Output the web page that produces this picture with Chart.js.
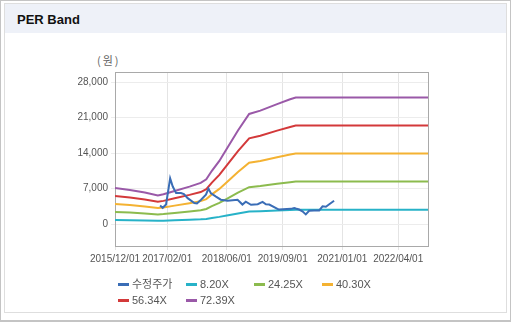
<!doctype html>
<html>
<head>
<meta charset="utf-8">
<title>PER Band</title>
<script src="https://cdn.jsdelivr.net/npm/chart.js@4/dist/chart.umd.min.js"></script>
<style>
body { margin: 0; background: #fff; }
#frame {
	position: relative; width: 509px; height: 319px;
	border: 1px solid #c4c4c4; border-bottom-width: 2px; overflow: hidden;
	font-family: "Liberation Sans", Arial, "Noto Sans CJK KR", sans-serif;
}
#panel {
	position: absolute; left: 3px; top: 2px; width: 501px; height: 308px;
	border: 1px solid #dedede;
}
#head {
	height: 29px; background: #eef1f8; color: #111;
	font-weight: bold; font-size: 13px; line-height: 31px; padding-left: 12px;
}
#unit {
	position: absolute; left: 96px; top: 51px; font-size: 11px; color: #666;
	letter-spacing: 2px; font-family: "Noto Sans CJK KR", sans-serif;
}
#canvas { position: absolute; left: 0; top: 0; }
#legend {
	position: absolute; left: 117px; top: 275px; width: 280px;
	display: flex; flex-wrap: wrap; font-size: 11px; color: #555;
}
#legend div { width: 68px; height: 16px; line-height: 16px; white-space: nowrap; }
#legend span.mk {
	display: inline-block; width: 11px; height: 3px; margin-right: 3px;
	vertical-align: middle; position: relative; top: -1px;
}
</style>
</head>
<body>
	<div id="frame">
		<div id="panel"><div id="head">PER Band</div></div>
		<div id="unit">(원)</div>
		<canvas id="canvas" width="511" height="322"></canvas>
		<div id="legend"></div>
	</div>
	<script>
		// months counted from 2015/12
		const xTickMonths = [0, 14, 30, 45, 61, 76];
		const xTickLabels = ['2015/12/01', '2017/02/01', '2018/06/01', '2019/09/01', '2021/01/01', '2022/04/01'];
		const yTicks = [0, 7000, 14000, 21000, 28000];

		const bandMonths = [0, 4, 8, 11.5, 13, 16, 20, 23, 24.5, 26, 28, 30, 33, 36, 39, 43.5, 47, 48.5, 84];
		const band820 = [804, 763, 705, 640, 664, 738, 836, 918, 1000, 1189, 1410, 1681, 2091, 2460, 2534, 2681, 2788, 2829, 2829];
		const band2425 = [2377, 2255, 2086, 1892, 1964, 2183, 2474, 2716, 2959, 3516, 4171, 4971, 6184, 7275, 7493, 7930, 8245, 8366, 8366];
		const band4030 = [3949, 3748, 3466, 3143, 3264, 3627, 4111, 4514, 4917, 5844, 6932, 8262, 10277, 12090, 12453, 13178, 13702, 13904, 13904];
		const band5634 = [5521, 5240, 4845, 4395, 4564, 5071, 5747, 6310, 6873, 8169, 9690, 11550, 14367, 16902, 17409, 18423, 19156, 19437, 19437];
		const band7239 = [7094, 6732, 6226, 5646, 5864, 6515, 7384, 8108, 8832, 10497, 12451, 14840, 18459, 21717, 22369, 23672, 24613, 24975, 24975];

		const priceMonths = [12.1, 12.8, 13.7, 14.8, 15.5, 16.4, 17.7, 18.5, 19.5, 21.3, 22.0, 23.1, 24.4, 25.1, 25.7, 27.1, 28.4, 30.2, 32.9, 34.2, 35.1, 36.5, 38.3, 39.6, 40.5, 41.4, 43.6, 44.0, 47.2, 48.1, 48.5, 49.4, 50.3, 51.2, 52.1, 53.4, 54.8, 55.7, 56.6, 57.5, 58.8];
		const priceValues = [3650, 3200, 3850, 9000, 7400, 6100, 6100, 5900, 5100, 4150, 4050, 4800, 5800, 7000, 6100, 5400, 4800, 4600, 4800, 3840, 4400, 3800, 3900, 4350, 3900, 3850, 3000, 2860, 2990, 3150, 3050, 2860, 2500, 1900, 2600, 2670, 2670, 3500, 3400, 3900, 4600];

		const seriesNames = ['수정주가', '8.20X', '24.25X', '40.30X', '56.34X', '72.39X'];
		const seriesColors = ['#3a6db6', '#27b2c8', '#8cbb4e', '#f4b232', '#d3393a', '#9a59a8'];
		const bandValues = [band820, band2425, band4030, band5634, band7239];

		const toPoints = (xs, ys) => xs.map((x, i) => ({x: x, y: ys[i]}));

		const datasets = [{
			label: seriesNames[0],
			data: toPoints(priceMonths, priceValues),
			borderColor: seriesColors[0],
			borderWidth: 2
		}];
		bandValues.forEach((vals, i) => {
			datasets.push({
				label: seriesNames[i + 1],
				data: toPoints(bandMonths, vals),
				borderColor: seriesColors[i + 1],
				borderWidth: 2
			});
		});

		const boxBorder = {
			id: 'boxBorder',
			beforeDatasetsDraw(chart) {
				const a = chart.chartArea;
				const c = chart.ctx;
				c.save();
				c.strokeStyle = '#a9a9a9';
				c.lineWidth = 1;
				c.strokeRect(Math.round(a.left) + 0.5, Math.round(a.top) + 0.5, Math.round(a.right - a.left), Math.round(a.bottom - a.top));
				c.restore();
			}
		};

		const tickFont = {family: '"Liberation Sans", Arial, sans-serif', size: 10};

		new Chart(document.getElementById('canvas'), {
			type: 'line',
			data: {datasets: datasets},
			plugins: [boxBorder],
			options: {
				responsive: false,
				animation: false,
				elements: {point: {radius: 0}, line: {tension: 0}},
				layout: {padding: {left: 64, right: 84, top: 71, bottom: 55}},
				plugins: {legend: {display: false}, tooltip: {enabled: false}},
				scales: {
					x: {
						type: 'linear',
						min: 0,
						max: 84,
						afterBuildTicks: s => { s.ticks = xTickMonths.map(v => ({value: v})); },
						afterFit: s => { s.height = 22; },
						ticks: {
							callback: v => xTickLabels[xTickMonths.indexOf(v)],
							font: tickFont, color: '#555', padding: 3, maxRotation: 0
						},
						grid: {color: '#e4e4e4', tickLength: 4},
						border: {display: false}
					},
					y: {
						min: -4340,
						max: 30000,
						afterBuildTicks: s => { s.ticks = yTicks.map(v => ({value: v})); },
						afterFit: s => { s.width = 50; },
						ticks: {
							callback: v => v.toLocaleString('en-US'),
							font: tickFont, color: '#555', padding: 3
						},
						grid: {color: '#ececec', tickLength: 4},
						border: {display: false}
					}
				}
			}
		});

		const legend = document.getElementById('legend');
		seriesNames.forEach((name, i) => {
			const item = document.createElement('div');
			item.innerHTML = '<span class="mk" style="background:' + seriesColors[i] + '"></span>' + name;
			legend.appendChild(item);
		});
	</script>
</body>
</html>
